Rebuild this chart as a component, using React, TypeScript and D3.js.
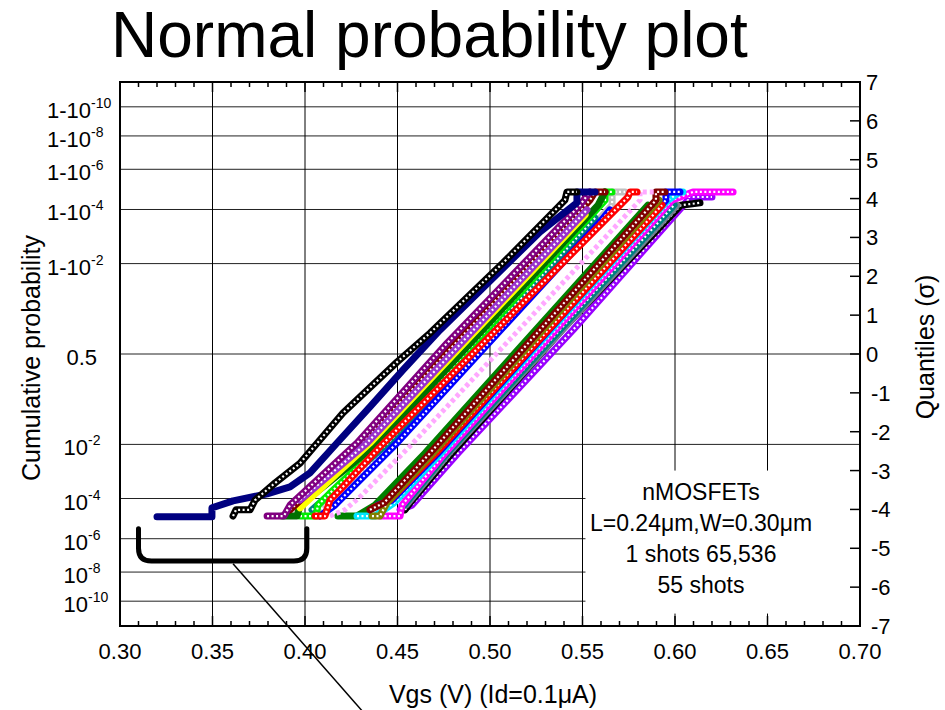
import React from "react";
import * as d3 from "d3";

const W = 945;
const H = 710;
const FONT = "'Liberation Sans', Arial, Helvetica, sans-serif";

// axes
const xTicks = [0.3, 0.35, 0.4, 0.45, 0.5, 0.55, 0.6, 0.65, 0.7];
const sigmaTicks = [-7, -6, -5, -4, -3, -2, -1, 0, 1, 2, 3, 4, 5, 6, 7];
const upperExps = [-10, -8, -6, -4, -2]; // 1-10^e
const lowerExps = [-2, -4, -6, -8, -10]; // 10^e
const noteLines = ["nMOSFETs", "L=0.24\u03bcm,W=0.30\u03bcm", "1 shots 65,536", "55 shots"];

// [Vgs, sigma], left group of shots
const pinkL = [[0.4135, -4.17], [0.4216, -4.01], [0.4297, -3.68], [0.4584, -2.29], [0.5811, 3.96], [0.5811, 4.17], [0.5892, 4.17]];
const redL = [[0.4054, -4.17], [0.4108, -4.17], [0.4135, -3.76], [0.4189, -3.5], [0.4405, -2.39], [0.5746, 4.04], [0.5757, 4.17], [0.5795, 4.17]];
const grayL = [[0.407, -4.07], [0.4162, -3.68], [0.447, -2.29], [0.566, 3.83], [0.566, 4.17], [0.573, 4.17]];
const blueL = [[0.4081, -4.17], [0.4162, -3.89], [0.4497, -2.29], [0.5595, 3.4], [0.5649, 3.71]];
const tealL = [[0.4038, -4.01], [0.4449, -2.29], [0.5568, 3.5]];
const limeL = [[0.3973, -4.17], [0.4059, -4.17], [0.407, -3.89], [0.4135, -3.58], [0.4422, -2.29], [0.5622, 3.96], [0.5622, 4.17], [0.566, 4.17]];
const greenL = [[0.3876, -4.17], [0.3957, -4.17], [0.3973, -3.89], [0.4395, -2.29], [0.5584, 3.83], [0.5622, 4.17]];
const yellowL = [[0.3973, -3.96], [0.4351, -2.29], [0.5514, 3.58]];
const maroonL = [[0.3919, -4.01], [0.4308, -2.29], [0.554, 3.96], [0.5568, 4.17], [0.5622, 4.17]];
const violetL = [[0.3973, -3.76], [0.4335, -2.29], [0.5524, 3.71]];
const purpleL = [[0.3795, -4.17], [0.3886, -4.17], [0.3919, -3.89], [0.4281, -2.29], [0.4768, 0.28], [0.5486, 3.83], [0.554, 4.17]];
const navyL = [[0.32, -4.19], [0.3497, -4.19], [0.3497, -3.96], [0.3611, -3.78], [0.3795, -3.6], [0.3919, -3.42], [0.4027, -3.06], [0.4173, -2.29], [0.4351, -1.36], [0.453, -0.41], [0.473, 0.62], [0.527, 3.14], [0.547, 3.89], [0.547, 4.17], [0.5568, 4.17]];
const blackL = [[0.3611, -4.17], [0.3627, -4.01], [0.3703, -4.01], [0.373, -3.76], [0.3838, -3.32], [0.3973, -2.81], [0.4205, -1.52], [0.4497, -0.21], [0.4676, 0.54], [0.507, 2.34], [0.5405, 3.96], [0.5416, 4.17], [0.547, 4.17]];

// right group of shots
const purpleR = [[0.4514, -4.01], [0.4578, -3.89], [0.4827, -2.55], [0.5449, 0.62], [0.607, 3.96], [0.607, 4.04], [0.62, 4.04]];
const blackR = [[0.4541, -4.01], [0.4568, -3.83], [0.4795, -2.55], [0.5389, 0.62], [0.6032, 3.83], [0.6135, 3.89]];
const grayR = [[0.4546, -3.89], [0.4778, -2.55], [0.6011, 3.83]];
const tealR = [[0.4535, -3.89], [0.4768, -2.55], [0.5995, 3.83]];
const magentaR = [[0.4405, -4.17], [0.4514, -4.17], [0.4524, -3.89], [0.4757, -2.55], [0.5984, 3.96], [0.6097, 4.17], [0.6314, 4.17]];
const cyanR = [[0.4281, -4.17], [0.4378, -4.17], [0.4481, -3.83], [0.4735, -2.55], [0.533, 0.62], [0.5962, 3.96], [0.6027, 4.17], [0.6043, 4.17]];
const blueR = [[0.4395, -3.89], [0.447, -3.76], [0.4719, -2.55], [0.5951, 3.96], [0.5951, 4.17], [0.6027, 4.17]];
const redR = [[0.4368, -3.96], [0.4459, -3.76], [0.4708, -2.55], [0.593, 3.83]];
const oliveR = [[0.4362, -4.17], [0.4405, -4.17], [0.4443, -3.83], [0.4692, -2.55], [0.5286, 0.62], [0.5914, 3.96]];
const brownR = [[0.4351, -4.01], [0.4427, -3.83], [0.4676, -2.55], [0.527, 0.62], [0.5897, 3.96], [0.5897, 4.17], [0.5946, 4.17]];
const greenR = [[0.4178, -4.17], [0.4281, -4.17], [0.4378, -3.89], [0.4649, -2.55], [0.5854, 3.83]];

type Kind = "open" | "solid" | "dash";
const series: { pts: number[][]; color: string; kind: Kind }[] = [
  { pts: greenR, color: "#008000", kind: "solid" },
  { pts: purpleR, color: "#9900ff", kind: "open" },
  { pts: blackR, color: "#000000", kind: "open" },
  { pts: grayR, color: "#708090", kind: "open" },
  { pts: tealR, color: "#008080", kind: "open" },
  { pts: magentaR, color: "#ff00ff", kind: "open" },
  { pts: cyanR, color: "#00e5ff", kind: "open" },
  { pts: blueR, color: "#0000ff", kind: "open" },
  { pts: redR, color: "#ff0000", kind: "open" },
  { pts: oliveR, color: "#808000", kind: "open" },
  { pts: brownR, color: "#800000", kind: "open" },
  { pts: pinkL, color: "#ffa8ff", kind: "dash" },
  { pts: grayL, color: "#c0c0c0", kind: "open" },
  { pts: tealL, color: "#008080", kind: "open" },
  { pts: blueL, color: "#0000ff", kind: "open" },
  { pts: limeL, color: "#00ee00", kind: "open" },
  { pts: greenL, color: "#007000", kind: "solid" },
  { pts: yellowL, color: "#ffff00", kind: "solid" },
  { pts: maroonL, color: "#800000", kind: "open" },
  { pts: violetL, color: "#9933cc", kind: "open" },
  { pts: redL, color: "#ff0000", kind: "open" },
  { pts: purpleL, color: "#800080", kind: "open" },
  { pts: navyL, color: "#000080", kind: "solid" },
  { pts: blackL, color: "#000000", kind: "open" },
];

// inverse normal cdf (Acklam)
function probit(p: number) {
  const a = [-39.69683028665376, 220.9460984245205, -275.9285104469687, 138.357751867269, -30.66479806614716, 2.506628277459239];
  const b = [-54.47609879822406, 161.5858368580409, -155.6989798598866, 66.80131188771972, -13.28068155288572];
  const c = [-0.007784894002430293, -0.3223964580411365, -2.400758277161838, -2.549732539343734, 4.374664141464968, 2.938163982698783];
  const d = [0.007784695709041462, 0.3224671290700398, 2.445134137142996, 3.754408661907416];
  if (p < 0.02425) {
    const q = Math.sqrt(-2 * Math.log(p));
    return (((((c[0] * q + c[1]) * q + c[2]) * q + c[3]) * q + c[4]) * q + c[5]) /
      ((((d[0] * q + d[1]) * q + d[2]) * q + d[3]) * q + 1);
  }
  const q = p - 0.5;
  const r = q * q;
  return ((((((a[0] * r + a[1]) * r + a[2]) * r + a[3]) * r + a[4]) * r + a[5]) * q) /
    (((((b[0] * r + b[1]) * r + b[2]) * r + b[3]) * r + b[4]) * r + 1);
}

const App = () => {
  const left = 120, right = 860, top = 82, bottom = 626;
  const x = d3.scaleLinear().domain([0.3, 0.7]).range([left, right]);
  const y = d3.scaleLinear().domain([-7, 7]).range([bottom, top]);
  const line = d3.line<number[]>().x((d) => x(d[0])).y((d) => y(d[1]));

  const gridZ = [
    ...upperExps.map((e) => -probit(Math.pow(10, e))),
    0,
    ...lowerExps.map((e) => probit(Math.pow(10, e))),
  ];
  const minor = d3.range(0, 41).map((i) => ({ v: 0.3 + i * 0.01, major: i % 5 === 0 }));

  // text box
  const box = { x0: 0.5516, x1: 0.7052, z0: -3.0, z1: -6.68 };

  return (
    <svg width={W} height={H} style={{ position: "absolute", left: 0, top: 0, background: "#fff" }} fontFamily={FONT}>
      <text x={111} y={57} fontSize={64}>Normal probability plot</text>

      {/* grid */}
      {gridZ.map((z, i) => (
        <line key={"h" + i} x1={left} x2={right} y1={y(z)} y2={y(z)} stroke="#222" strokeWidth={1} />
      ))}
      {xTicks.slice(1, -1).map((v) => (
        <line key={"v" + v} x1={x(v)} x2={x(v)} y1={top} y2={bottom} stroke="#000" strokeWidth={1} />
      ))}

      {/* note box */}
      <rect x={x(box.x0)} y={y(box.z0)} width={x(box.x1) - x(box.x0)} height={y(box.z1) - y(box.z0)} fill="#fff" />
      {noteLines.map((t, i) => (
        <text key={t} x={701} y={500 + i * 31} fontSize={23} textAnchor="middle">{t}</text>
      ))}

      {/* data */}
      {series.map((s, i) => {
        const d = line(s.pts) || "";
        if (s.kind === "dash") {
          return <path key={i} d={d} fill="none" stroke={s.color} strokeWidth={5} strokeDasharray="4 3" />;
        }
        return (
          <g key={i}>
            <path d={d} fill="none" stroke={s.color} strokeWidth={7} strokeLinejoin="round" strokeLinecap="round" />
            {s.kind === "open" && (
              <path d={d} fill="none" stroke="#fff" strokeWidth={2.2} strokeDasharray="2 2.5" />
            )}
          </g>
        );
      })}

      {/* bracket annotation */}
      <path
        d={`M${x(0.31)},${y(-4.5)} L${x(0.31)},${y(-5.0)} Q${x(0.31)},${y(-5.33)} ${x(0.317)},${y(-5.33)} L${x(0.394)},${y(-5.33)} Q${x(0.401)},${y(-5.33)} ${x(0.401)},${y(-5.0)} L${x(0.401)},${y(-4.5)}`}
        fill="none" stroke="#000" strokeWidth={5} strokeLinecap="round"
      />
      <line x1={x(0.3611)} y1={y(-5.4)} x2={x(0.4308)} y2={y(-9.18)} stroke="#000" strokeWidth={1.5} />

      {/* frame */}
      <rect x={left} y={top} width={right - left} height={bottom - top} fill="none" stroke="#000" strokeWidth={2} />
      {minor.map((m, i) => (
        <g key={"t" + i}>
          <line x1={x(m.v)} x2={x(m.v)} y1={top} y2={top + (m.major ? 10 : 5)} stroke="#000" strokeWidth={1.5} />
          <line x1={x(m.v)} x2={x(m.v)} y1={bottom} y2={bottom - (m.major ? 10 : 5)} stroke="#000" strokeWidth={1.5} />
        </g>
      ))}
      {sigmaTicks.map((z) => (
        <line key={"r" + z} x1={right - 10} x2={right} y1={y(z)} y2={y(z)} stroke="#000" strokeWidth={1.5} />
      ))}

      {/* x tick labels */}
      {xTicks.map((v) => (
        <text key={"xl" + v} x={x(v)} y={659} fontSize={22} textAnchor="middle">{v.toFixed(2)}</text>
      ))}
      {/* right sigma labels */}
      {sigmaTicks.map((z) => (
        <text key={"rl" + z} x={z < 0 ? 871 : 866} y={y(z) + 8} fontSize={22}>{z}</text>
      ))}
      {/* left probability labels */}
      {upperExps.map((e) => {
        const yy = y(-probit(Math.pow(10, e)));
        return (
          <g key={"u" + e}>
            <text x={91} y={yy + 11} fontSize={22} textAnchor="end">1-10</text>
            <text x={91} y={yy + 1} fontSize={14}>{e}</text>
          </g>
        );
      })}
      <text x={97} y={y(0) + 11} fontSize={22} textAnchor="end">0.5</text>
      {lowerExps.map((e) => {
        const yy = y(probit(Math.pow(10, e)));
        return (
          <g key={"l" + e}>
            <text x={88} y={yy + 11} fontSize={22} textAnchor="end">10</text>
            <text x={88} y={yy + 1} fontSize={14}>{e}</text>
          </g>
        );
      })}

      {/* axis titles */}
      <text x={493} y={703} fontSize={25} textAnchor="middle">Vgs (V) (Id=0.1{"\u03bc"}A)</text>
      <text transform="translate(40,358) rotate(-90)" fontSize={25} textAnchor="middle">Cumulative probability</text>
      <text transform="translate(934,347) rotate(-90)" fontSize={25} textAnchor="middle">Quantiles ({"\u03c3"})</text>
    </svg>
  );
};

export default App;
